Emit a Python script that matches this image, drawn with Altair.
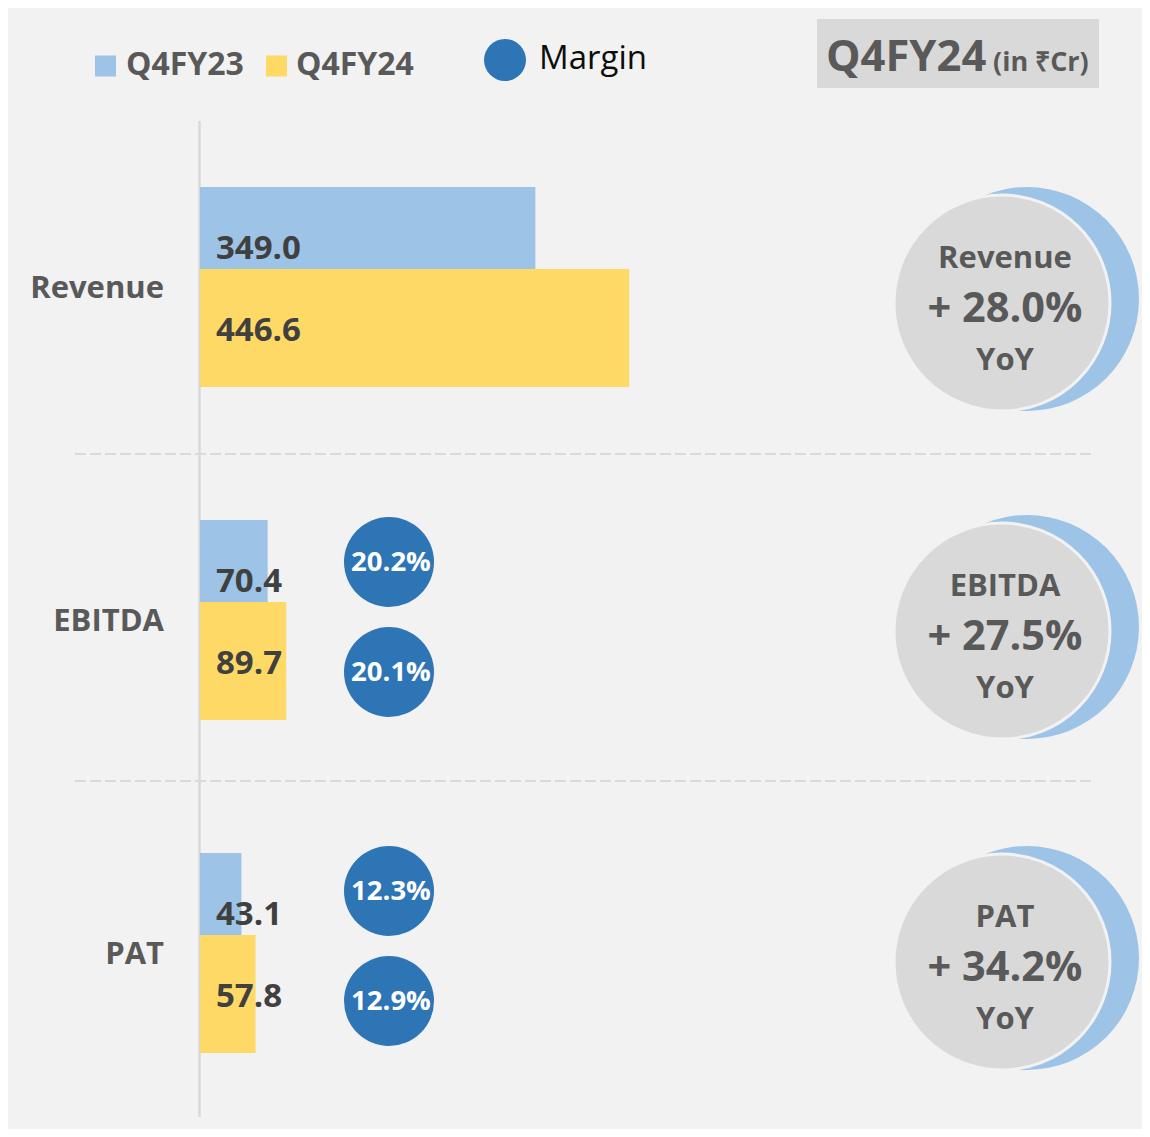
import altair as alt
import pandas as pd

# ---------------- data ----------------
metrics = ["Revenue", "EBITDA", "PAT"]
periods = ["Q4FY23", "Q4FY24"]
q4fy23 = [349.0, 70.4, 43.1]
q4fy24 = [446.6, 89.7, 57.8]
margin_q4fy23 = [None, 20.2, 12.3]
margin_q4fy24 = [None, 20.1, 12.9]
yoy_growth = [28.0, 27.5, 34.2]
title_main = "Q4FY24"
title_unit = "(in ₹Cr)"
margin_name = "Margin"

# ---------------- layout / style ----------------
W, H = 1134, 1121
FONT = "Open Sans"
BG = "#f2f2f2"
C23, C24 = "#9dc3e6", "#ffd966"
CMARGIN = "#2e75b6"
CGRAY = "#d9d9d9"
TXT = "#595959"
TXT_DARK = "#404040"

SECTION_TOP = [179, 512, 845]          # top of each metric block
BAR_SPAN = [(0, 82), (82, 200)]         # vertical extent of each period bar in block
LABEL_OFF = [62, 144]                   # value label centre offset
MARGIN_OFF = [(40, 150), (42, 152), (38, 148)]   # margin bubble centre offsets
CAT_OFF = 102
YOY_OFF = [116, 111, 109]               # gray YoY disc centre offset per block
AXIS_X = 191.5
BAR_X0 = 192
PX_PER_UNIT = 0.961
DOMAIN_MAX = 500

YS = alt.Scale(domain=[0, H], range=[0, H], nice=False, zero=False)
XS = alt.Scale(domain=[0, DOMAIN_MAX], range=[BAR_X0, BAR_X0 + PX_PER_UNIT * DOMAIN_MAX],
               nice=False, zero=False)

# ---------------- tables ----------------
bar_rows, lab_rows, mar_rows = [], [], []
for i, m in enumerate(metrics):
    top = SECTION_TOP[i]
    vals = [q4fy23[i], q4fy24[i]]
    mars = [margin_q4fy23[i], margin_q4fy24[i]]
    for j, p in enumerate(periods):
        bar_rows.append(dict(metric=m, period=p, zero=0, value=vals[j],
                             y0=top + BAR_SPAN[j][0], y1=top + BAR_SPAN[j][1]))
        lab_rows.append(dict(metric=m, period=p, label=f"{vals[j]:.1f}", y=top + LABEL_OFF[j]))
        if mars[j] is not None:
            mar_rows.append(dict(metric=m, period=p, label=f"{mars[j]:.1f}%",
                                 y=top + MARGIN_OFF[i][j]))
bars_df = pd.DataFrame(bar_rows)
labs_df = pd.DataFrame(lab_rows)
mars_df = pd.DataFrame(mar_rows)
mars_df["ty"] = mars_df["y"] + 1
cat_df = pd.DataFrame(dict(metric=metrics, y=[t + CAT_OFF for t in SECTION_TOP]))
yoy_df = pd.DataFrame(dict(metric=metrics,
                           growth=[f"+ {g:.1f}%" for g in yoy_growth],
                           yoy=["YoY"] * 3,
                           cy=[t + o for t, o in zip(SECTION_TOP, YOY_OFF)]))
yoy_df["cy_blue"] = yoy_df["cy"] - 4
yoy_df["y_name"] = yoy_df["cy"] - 44
yoy_df["y_growth"] = yoy_df["cy"] + 7
yoy_df["y_yoy"] = yoy_df["cy"] + 58

one = pd.DataFrame({"k": [0]})


def text_at(label, x, y, size, color, weight="bold", align="left", baseline="middle"):
    return alt.Chart(pd.DataFrame({"label": [label]})).mark_text(
        font=FONT, fontSize=size, fontWeight=weight, color=color, align=align, baseline=baseline
    ).encode(x=alt.value(x), y=alt.value(y), text="label:N")


layers = []

# title box
layers.append(alt.Chart(one).mark_rect(color=CGRAY).encode(
    x=alt.value(809), x2=alt.value(1091), y=alt.value(11), y2=alt.value(80)))
layers.append(text_at(title_main, 818, 63, 43.5, TXT, baseline="alphabetic"))
layers.append(text_at(title_unit, 985, 63, 27, TXT, baseline="alphabetic"))

# legend
for j, p in enumerate(periods):
    sx = [97.5, 268.5][j]
    tx = [118, 288][j]
    layers.append(alt.Chart(pd.DataFrame({"period": [p]})).mark_square(opacity=1, size=441).encode(
        x=alt.value(sx), y=alt.value(58),
        color=alt.Color("period:N", scale=alt.Scale(domain=periods, range=[C23, C24]), legend=None)))
    layers.append(text_at(p, tx, 57, 32, TXT))
layers.append(alt.Chart(one).mark_circle(opacity=1, size=1764, color=CMARGIN).encode(
    x=alt.value(497), y=alt.value(52)))
layers.append(text_at(margin_name, 531, 51, 33, "#0d0d0d", weight="normal"))

# axis line
layers.append(alt.Chart(one).mark_rule(color=CGRAY, strokeWidth=2.5).encode(
    x=alt.value(AXIS_X), y=alt.value(113), y2=alt.value(1109)))

# separators
sep_df = pd.DataFrame({"y": [446, 773]})
layers.append(alt.Chart(sep_df).mark_rule(color="#dadada", strokeWidth=2, strokeDash=[11, 4]).encode(
    x=alt.value(67), x2=alt.value(1084), y=alt.Y("y:Q", scale=YS, axis=None)))

# bars
layers.append(alt.Chart(bars_df).mark_rect().encode(
    x=alt.X("zero:Q", scale=XS, axis=None),
    x2="value:Q",
    y=alt.Y("y0:Q", scale=YS, axis=None),
    y2="y1:Q",
    color=alt.Color("period:N", scale=alt.Scale(domain=periods, range=[C23, C24]), legend=None),
))
layers.append(alt.Chart(labs_df).mark_text(
    font=FONT, fontSize=33, fontWeight="bold", color=TXT_DARK, align="left", baseline="middle"
).encode(x=alt.value(208), y=alt.Y("y:Q", scale=YS, axis=None), text="label:N"))

# category labels
layers.append(alt.Chart(cat_df).mark_text(
    font=FONT, fontSize=31, fontWeight="bold", color=TXT, align="right", baseline="middle"
).encode(x=alt.value(156), y=alt.Y("y:Q", scale=YS, axis=None), text="metric:N"))

# margin bubbles
layers.append(alt.Chart(mars_df).mark_circle(opacity=1, size=8100, color=CMARGIN).encode(
    x=alt.value(381), y=alt.Y("y:Q", scale=YS, axis=None)))
layers.append(alt.Chart(mars_df).mark_text(
    font=FONT, fontSize=27.5, fontWeight="bold", color="white", align="center", baseline="middle"
).encode(x=alt.value(383), y=alt.Y("ty:Q", scale=YS, axis=None), text="label:N"))

# YoY circles
layers.append(alt.Chart(yoy_df).mark_circle(opacity=1, size=50176, color=C23).encode(
    x=alt.value(1019), y=alt.Y("cy_blue:Q", scale=YS, axis=None)))
layers.append(alt.Chart(yoy_df).mark_circle(opacity=1, size=46656, color=CGRAY,
                                            stroke=BG, strokeWidth=3).encode(
    x=alt.value(994), y=alt.Y("cy:Q", scale=YS, axis=None)))
layers.append(alt.Chart(yoy_df).mark_text(
    font=FONT, fontSize=31, fontWeight="bold", color=TXT, align="center", baseline="middle"
).encode(x=alt.value(997), y=alt.Y("y_name:Q", scale=YS, axis=None), text="metric:N"))
layers.append(alt.Chart(yoy_df).mark_text(
    font=FONT, fontSize=41.5, fontWeight="bold", color=TXT, align="center", baseline="middle"
).encode(x=alt.value(997), y=alt.Y("y_growth:Q", scale=YS, axis=None), text="growth:N"))
layers.append(alt.Chart(yoy_df).mark_text(
    font=FONT, fontSize=31, fontWeight="bold", color=TXT, align="center", baseline="middle"
).encode(x=alt.value(997), y=alt.Y("y_yoy:Q", scale=YS, axis=None), text="yoy:N"))

chart = alt.layer(*layers).properties(
    width=W, height=H, background=BG, padding=0,
    autosize=alt.AutoSizeParams(type="none"),
).configure_view(stroke=None)

chart.save("out.html", embed_options={"renderer": "svg", "actions": False})
